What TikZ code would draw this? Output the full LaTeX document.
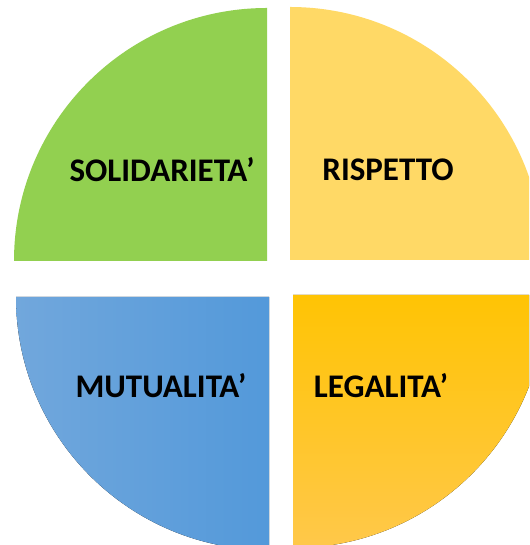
\documentclass[tikz,border=0pt]{standalone}
\usepackage{fontspec}
\setsansfont{Carlito}
\usepackage{xcolor}
\usepackage{tikz}
\definecolor{solgreen}{HTML}{92D050}
\definecolor{rispyellow}{HTML}{FFD966}
\definecolor{mutblueL}{HTML}{71A7DC}
\definecolor{mutblueR}{HTML}{5399DA}
\definecolor{legorangeT}{HTML}{FFC404}
\definecolor{legorangeB}{HTML}{FFC84A}
\newcommand{\PG}[0]{solgreen}
\newcommand{\PY}[0]{rispyellow}

\tikzset{word/.style={font=\sffamily\bfseries\fontsize{33}{36}\selectfont, text=black}}

\begin{document}
\begin{tikzpicture}[x=1pt, y=1pt]

  \newcommand\RAD{253}

  \useasboundingbox (0, 0) rectangle (529, 545);
  \clip (0, 0) rectangle (529, 545);

  %% top left
  \fill[\PG] (267, 284) -- (267 - \RAD, 284) arc (180:90:\RAD) -- cycle;
  %% top right
  \fill[\PY] (290, 285) -- (290, 285 + \RAD) arc (90:0:\RAD) -- cycle;
  %% bottom left
  \fill[left color=mutblueL, right color=mutblueR] (269, 248) -- (269 - \RAD, 248) arc (180:270:\RAD) -- cycle;
  %% bottom right
  \fill[top color=legorangeT, bottom color=legorangeB] (293, 250) -- (293, 250 - \RAD) arc (270:360:\RAD) -- cycle;

  \node[word] (sol) at (162, 375) {SOLIDARIETA’};
  \node[word] (risp) at (388, 375) {RISPETTO};
  \node[word] (mut) at (161, 159) {MUTUALITA’};
  \node[word] (leg) at (381, 159) {LEGALITA’};

\end{tikzpicture}
\end{document}
